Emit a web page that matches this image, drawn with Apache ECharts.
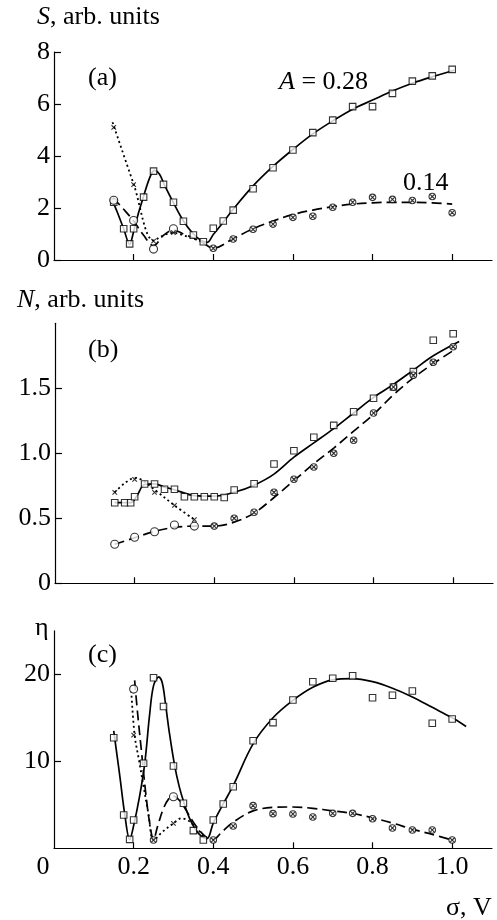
<!DOCTYPE html>
<html><head><meta charset="utf-8">
<script src="https://cdn.jsdelivr.net/npm/echarts@6/dist/echarts.min.js"></script>
<style>html,body{margin:0;padding:0;background:#fff}#c{width:497px;height:920px}</style>
</head><body><div id="c"></div>
<script>
// ---- common sigma points (V) for square markers ----
const sigmaSq = [0.15,0.175,0.19,0.2,0.225,0.25,0.275,0.3,0.325,0.35,0.375,0.4,0.425,0.45,0.5,0.55,0.6,0.65,0.7,0.75,0.8,0.85,0.9,0.95,1.0];
const sigmaOpen = [0.15,0.2,0.25,0.3];
const sigmaOtimes = [0.4,0.45,0.5,0.55,0.6,0.65,0.7,0.75,0.8,0.85,0.9,0.95,1.0];
const sigmaCross = [0.15,0.2,0.25,0.3];
const xTickLabels = ['0','0.2','0.4','0.6','0.8','1.0'];
const xTickValues = [0,0.2,0.4,0.6,0.8,1.0];

// ---- panel (a): S ----
const aSq = [2.22,1.2,0.62,1.2,2.42,3.42,2.91,2.22,1.49,0.96,0.70,1.22,1.5,1.92,2.74,3.55,4.23,4.9,5.38,5.9,5.9,6.41,6.88,7.08,7.33];
const aOpen = [2.3,1.52,0.42,1.2];
const aOtimes = [0.45,0.81,1.18,1.38,1.64,1.68,2.03,2.22,2.41,2.33,2.29,2.44,1.82];
const aCross = [5.1,2.9,0.73,1.05];
const aSolidX = [0.145,0.16,0.175,0.19,0.2,0.212,0.225,0.24,0.252,0.265,0.277,0.3,0.325,0.35,0.37,0.385,0.4,0.425,0.45,0.5,0.55,0.6,0.65,0.7,0.75,0.8,0.85,0.9,0.95,1.005];
const aSolidY = [2.35,1.8,1.2,0.6,1.1,1.8,2.45,3.15,3.45,3.3,2.9,2.2,1.5,1.0,0.75,0.68,0.98,1.45,1.95,2.85,3.6,4.25,4.85,5.35,5.8,6.15,6.5,6.8,7.05,7.3];
const aDashX = [0.148,0.175,0.2,0.225,0.25,0.275,0.3,0.325,0.35,0.375,0.4,0.45,0.5,0.55,0.6,0.65,0.7,0.75,0.8,0.85,0.9,0.95,1.0];
const aDashY = [2.4,1.95,1.5,0.95,0.55,0.95,1.15,1.0,0.85,0.65,0.45,0.82,1.2,1.5,1.75,1.92,2.05,2.15,2.2,2.22,2.22,2.2,2.15];
const aDotX = [0.147,0.2,0.25,0.275,0.3,0.325,0.35,0.378];
const aDotY = [5.3,2.92,0.75,0.95,1.05,0.95,0.82,0.68];

// ---- panel (b): N ----
const sigmaOpenB = [0.15,0.2,0.25,0.3,0.35];
const sigmaCrossB = [0.15,0.2,0.25,0.3,0.35];
const bSq = [0.62,0.62,0.62,0.666,0.764,0.764,0.723,0.723,0.666,0.666,0.666,0.666,0.66,0.718,0.766,0.918,1.02,1.123,1.215,1.32,1.423,1.51,1.628,1.87,1.92];
const bOpen = [0.30,0.354,0.397,0.448,0.44];
const bOtimes = [0.44,0.50,0.546,0.70,0.80,0.895,1.0,1.10,1.31,1.51,1.60,1.70,1.82];
const bCross = [0.70,0.80,0.70,0.60,0.49];
const bSolidX = [0.15,0.19,0.205,0.225,0.25,0.275,0.3,0.35,0.4,0.45,0.5,0.55,0.6,0.65,0.7,0.75,0.8,0.85,0.9,0.95,1.015];
const bSolidY = [0.62,0.62,0.67,0.76,0.765,0.74,0.72,0.675,0.67,0.70,0.755,0.84,0.97,1.08,1.19,1.31,1.43,1.53,1.64,1.75,1.86];
const bDashX = [0.15,0.2,0.25,0.3,0.35,0.4,0.45,0.5,0.55,0.6,0.65,0.7,0.75,0.8,0.85,0.9,0.95,1.005];
const bDashY = [0.3,0.35,0.4,0.43,0.44,0.44,0.47,0.54,0.66,0.79,0.92,1.04,1.17,1.3,1.45,1.58,1.69,1.8];
const bDotX = [0.15,0.175,0.2,0.215,0.25,0.3,0.35];
const bDotY = [0.7,0.77,0.81,0.8,0.72,0.6,0.49];

// ---- panel (c): eta ----
const sigmaOpenC = [0.2,0.3];
const sigmaOtimesC = [0.25,0.4,0.45,0.5,0.55,0.6,0.65,0.7,0.75,0.8,0.85,0.9,0.95,1.0];
const sigmaCrossC = [0.2,0.3];
const cSq = [12.7,3.83,1.03,3.25,9.77,19.6,16.3,9.46,5.17,2.03,0.95,3.25,5.09,7.08,12.37,14.44,17.05,19.15,19.54,19.84,17.3,17.6,18.08,14.37,14.86];
const cOpen = [18.3,5.93];
const cOtimes = [0.95,0.95,2.56,4.9,3.98,3.94,3.6,4.02,4.02,3.4,2.33,2.1,2.1,0.95];
const cCross = [13.0,2.87];
const cSolidX = [0.15,0.165,0.178,0.19,0.2,0.215,0.228,0.24,0.25,0.263,0.272,0.28,0.29,0.303,0.315,0.326,0.34,0.355,0.37,0.384,0.4,0.425,0.45,0.5,0.55,0.6,0.65,0.7,0.75,0.8,0.85,0.9,0.95,1.0,1.035];
const cSolidY = [13.5,8.4,3.8,1.0,2.6,6.0,9.8,15.3,18.7,19.7,19.0,16.6,13.2,9.5,7.0,5.3,3.5,2.2,1.4,1.1,2.9,5.1,7.2,12.0,15.0,17.0,18.5,19.35,19.5,19.15,18.4,17.4,16.2,15.0,14.0];
const cDashX = [0.2025,0.21,0.22,0.23,0.24,0.25,0.26,0.275,0.29,0.3,0.315,0.33,0.35,0.37,0.385,0.4,0.42,0.45,0.5,0.55,0.6,0.65,0.7,0.75,0.8,0.85,0.9,0.95,1.0];
const cDashY = [19.3,15.5,11,6.5,3,1.0,2.5,4.6,5.8,6.0,5.5,4.5,3.0,1.8,1.2,1.0,1.8,3.0,4.3,4.7,4.75,4.6,4.3,4.0,3.5,2.9,2.2,1.6,0.95];
const cDotX = [0.194,0.2025,0.214,0.225,0.237,0.25,0.27,0.3,0.32,0.34,0.36,0.38];
const cDotY = [18.1,13.0,10.0,7.1,4.0,0.9,1.8,2.87,3.45,3.1,2.2,1.2];

const zip = (xs, ys) => xs.map((x, i) => [x, ys[i]]);
const FONT = "'Liberation Serif','Times New Roman',serif";
const OTIMES = 'path://M10,0A10,10 0 1,1 -10,0A10,10 0 1,1 10,0Z M-7.07,-7.07L7.07,7.07M7.07,-7.07L-7.07,7.07';
const CROSS = 'path://M-10,-10L10,10M10,-10L-10,10';

function curve(idx, xs, ys, type) {
  const dash = type === 'solid' ? 'solid' : (type === 'dashed' ? [10, 5] : [2, 3]);
  return { type: 'line', xAxisIndex: idx, yAxisIndex: idx, data: zip(xs, ys), smooth: 0.35,
    showSymbol: false, symbol: 'none', silent: true, z: 2,
    lineStyle: { color: '#000', width: type === 'dotted' ? 1.8 : 1.7, type: dash } };
}
function marks(idx, xs, ys, kind) {
  const s = { type: 'scatter', xAxisIndex: idx, yAxisIndex: idx, data: zip(xs, ys), z: 5, silent: true };
  if (kind === 'sq') { s.symbol = 'rect'; s.symbolSize = 6.5; s.itemStyle = { color: '#fff', borderColor: '#000', borderWidth: 1.1 }; }
  if (kind === 'open') { s.symbol = 'circle'; s.symbolSize = 8; s.itemStyle = { color: '#fff', borderColor: '#000', borderWidth: 1.1 }; }
  if (kind === 'ot') { s.symbol = OTIMES; s.symbolSize = 6.5; s.itemStyle = { color: '#fff', borderColor: '#000', borderWidth: 1.1 }; }
  if (kind === 'x') { s.symbol = CROSS; s.symbolSize = 4.5; s.itemStyle = { color: 'transparent', borderColor: '#000', borderWidth: 1.1 }; }
  return s;
}

const grids = [
  { left: 54, right: 5, top: 52, height: 208 },
  { left: 55, right: 4, top: 323.3, height: 260 },
  { left: 54, right: 5, top: 630.8, height: 217.5 }
];
function xAxis(idx, withLabels) {
  return { type: 'value', gridIndex: idx, min: 0, max: 1.1, interval: 0.2,
    axisLine: { show: true, onZero: false, lineStyle: { color: '#000', width: 1.2 } },
    axisTick: { show: true, inside: true, length: 6, customValues: [0.2,0.4,0.6,0.8,1.0], lineStyle: { color: '#000', width: 1.2 } },
    splitLine: { show: false },
    axisLabel: { show: withLabels, customValues: xTickValues, margin: 6, color: '#000', fontFamily: FONT, fontSize: 26,
      formatter: v => { const i = xTickValues.findIndex(t => Math.abs(t - v) < 1e-9); const s = i >= 0 ? xTickLabels[i] : ''; return s === '0' ? '{z|0}' : s; },
      rich: { z: { fontFamily: FONT, fontSize: 26, color: '#000', padding: [0, 22, 0, 0] } } } };
}
function yAxis(idx, cfg) {
  return Object.assign({ type: 'value', gridIndex: idx,
    axisLine: { show: true, onZero: false, lineStyle: { color: '#000', width: 1.2 } },
    splitLine: { show: false } }, cfg);
}
const yLabel = (extra) => Object.assign({ color: '#000', fontFamily: FONT, fontSize: 26, margin: 4 }, extra);
const yTick = (extra) => Object.assign({ show: true, inside: true, length: 7, lineStyle: { color: '#000', width: 1.2 } }, extra);

const txt = (x, y, text, rich) => ({ type: 'text', x, y, silent: true,
  style: { text, fill: '#000', font: '26px ' + FONT, verticalAlign: 'middle', align: 'left', rich: rich || {} } });
const italic = { i: { fontStyle: 'italic', fontFamily: FONT, fontSize: 26, fill: '#000', color: '#000' } };

const option = {
  animation: false,
  backgroundColor: '#fff',
  grid: grids,
  xAxis: [xAxis(0, false), xAxis(1, false), xAxis(2, true)],
  yAxis: [
    yAxis(0, { min: 0, max: 8, interval: 2, axisTick: yTick({}), axisLabel: yLabel({}) }),
    yAxis(1, { min: 0, max: 2, interval: 0.5, axisTick: yTick({ customValues: [0, 0.5, 1, 1.5] }),
      axisLabel: yLabel({ customValues: [0, 0.5, 1, 1.5], formatter: v => v === 0 ? '0' : v.toFixed(1) }) }),
    yAxis(2, { min: 0, max: 25, interval: 10, axisTick: yTick({ customValues: [10, 20] }),
      axisLabel: yLabel({ customValues: [10, 20] }) })
  ],
  series: [
    curve(0, aSolidX, aSolidY, 'solid'), curve(0, aDashX, aDashY, 'dashed'), curve(0, aDotX, aDotY, 'dotted'),
    marks(0, sigmaSq, aSq, 'sq'), marks(0, sigmaOpen, aOpen, 'open'), marks(0, sigmaOtimes, aOtimes, 'ot'), marks(0, sigmaCross, aCross, 'x'),
    curve(1, bSolidX, bSolidY, 'solid'), curve(1, bDashX, bDashY, 'dashed'), curve(1, bDotX, bDotY, 'dotted'),
    marks(1, sigmaSq, bSq, 'sq'), marks(1, sigmaOpenB, bOpen, 'open'), marks(1, sigmaOtimes, bOtimes, 'ot'), marks(1, sigmaCrossB, bCross, 'x'),
    curve(2, cSolidX, cSolidY, 'solid'), curve(2, cDashX, cDashY, 'dashed'), curve(2, cDotX, cDotY, 'dotted'),
    marks(2, sigmaSq, cSq, 'sq'), marks(2, sigmaOpenC, cOpen, 'open'), marks(2, sigmaOtimesC, cOtimes, 'ot'), marks(2, sigmaCrossC, cCross, 'x')
  ],
  graphic: [
    txt(37, 17, '{i|S}, arb. units', italic),
    txt(17, 300, '{i|N}, arb. units', italic),
    txt(35, 628, 'η'),
    txt(88, 78, '(a)'),
    txt(88, 350, '(b)'),
    txt(88, 655, '(c)'),
    txt(279, 82, '{i|A} = 0.28', italic),
    txt(403, 183, '0.14'),
    txt(446, 908, 'σ, V')
  ]
};
const chart = echarts.init(document.getElementById('c'), null, { renderer: 'canvas' });
chart.setOption(option);
</script>
</body></html>
